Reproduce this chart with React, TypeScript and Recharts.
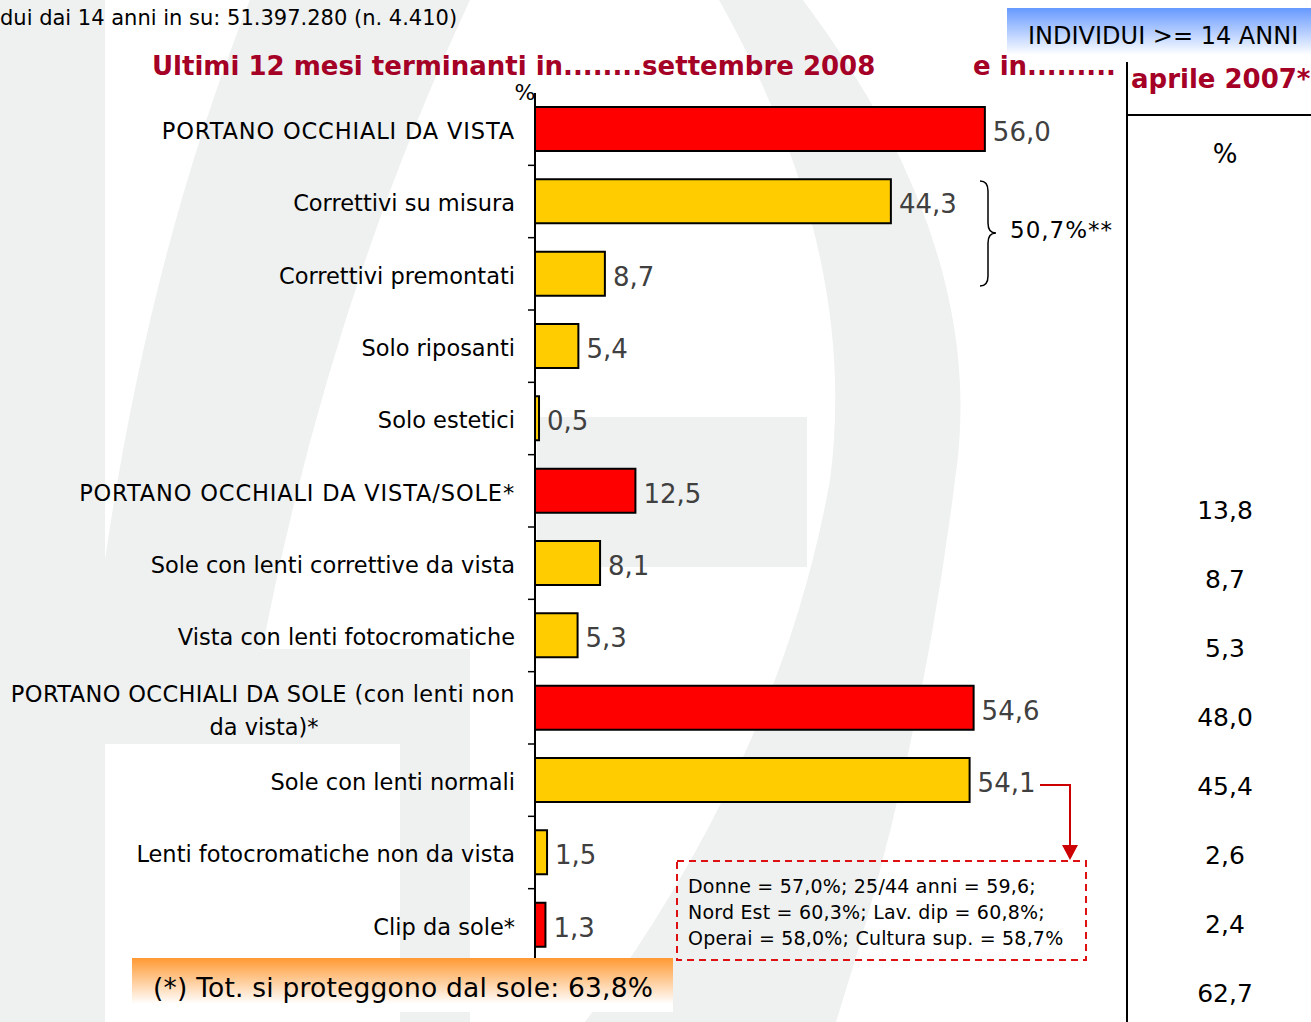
import { BarChart, Bar, XAxis, YAxis, Cell, LabelList } from 'recharts'

const categories = [
  'PORTANO OCCHIALI DA VISTA',
  'Correttivi su misura',
  'Correttivi premontati',
  'Solo riposanti',
  'Solo estetici',
  'PORTANO OCCHIALI DA VISTA/SOLE*',
  'Sole con lenti correttive da vista',
  'Vista con lenti fotocromatiche',
  'PORTANO OCCHIALI DA SOLE (con lenti non|da vista)*',
  'Sole con lenti normali',
  'Lenti fotocromatiche non da vista',
  'Clip da sole*',
]
const values2008 = [56.0, 44.3, 8.7, 5.4, 0.5, 12.5, 8.1, 5.3, 54.6, 54.1, 1.5, 1.3]
const isRed = [true, false, false, false, false, true, false, false, true, false, false, true]
const values2007 = ['13,8', '8,7', '5,3', '48,0', '45,4', '2,6', '2,4', '62,7']
const noteLines = [
  'Donne = 57,0%; 25/44 anni = 59,6;',
  'Nord Est = 60,3%; Lav. dip = 60,8%;',
  'Operai = 58,0%; Cultura sup. = 58,7%',
]

const W = 1311
const H = 1022
const TOP = 93
const BOTTOM = 61
const BAND = (H - TOP - BOTTOM) / categories.length
const FONT = '"DejaVu Sans", Verdana, sans-serif'
const DARK_RED = '#a50026'

const data = categories.map((name, i) => ({ name, value: values2008[i], red: isRed[i] }))

const fmt = (v: any) => Number(v).toFixed(1).replace('.', ',')

// upper-case labels are a bit wider in the original font
const spacingFor = (s: string) => (s === s.toUpperCase() ? 0.85 : /[A-Z]{4}/.test(s) ? 0.38 : 0)

function CategoryTick(props: any) {
  const { x, y, payload } = props
  const lines = String(payload.value).split('|')
  const axisX = x + 20
  return (
    <g>
      <line x1={axisX - 7} x2={axisX} y1={y + BAND / 2} y2={y + BAND / 2} stroke="#000" strokeWidth={1.5} />
      {lines.length === 1 ? (
        <text x={x} y={y + 2} dy="0.35em" textAnchor="end" fontSize={22.5} fill="#000" fontFamily={FONT} letterSpacing={spacingFor(lines[0])}>
          {lines[0]}
        </text>
      ) : (
        <>
          <text x={x} y={y - 14} dy="0.35em" textAnchor="end" fontSize={22.5} fill="#000" fontFamily={FONT} letterSpacing={spacingFor(lines[0])}>
            {lines[0]}
          </text>
          <text x={x - 251} y={y + 19} dy="0.35em" textAnchor="middle" fontSize={22.5} fill="#000" fontFamily={FONT}>
            {lines[1]}
          </text>
        </>
      )}
    </g>
  )
}

function ValueLabel(props: any) {
  const { x, y, width, height, value } = props
  return (
    <text x={x + width + 8} y={y + height / 2 + 3} dy="0.35em" fill="#404040" fontSize={26} fontFamily={FONT}>
      {fmt(value)}
    </text>
  )
}

function Watermark() {
  const g = '#eff0f0'
  return (
    <svg width={W} height={H} style={{ position: 'absolute', left: 0, top: 0 }}>
      <rect x={0} y={0} width={105} height={H} fill={g} />
      <path d="M250,0 L470,0 Q330,300 262,650 L105,650 L105,560 Q150,250 250,0 Z" fill={g} />
      <rect x={105} y={649} width={365} height={95} fill={g} />
      <rect x={400} y={649} width={70} height={373} fill={g} />
      <path d="M719,0 L803,0 Q990,250 955,480 Q920,760 836,1022 L585,1022 Q780,760 830,480 Q860,250 719,0 Z" fill={g} />
      <rect x={537} y={417} width={270} height={150} fill={g} />
    </svg>
  )
}

export default function App() {
  return (
    <div style={{ position: 'absolute', left: 0, top: 0, width: W, height: H, background: '#fff', overflow: 'hidden', fontFamily: FONT }}>
      <Watermark />
      <div style={{ position: 'absolute', left: 0, top: 0 }}>
        <BarChart width={W} height={H} data={data} layout="vertical" margin={{ top: TOP, right: 294, bottom: BOTTOM, left: 0 }}>
          <XAxis type="number" domain={[0, 60]} hide />
          <YAxis
            type="category"
            dataKey="name"
            width={535}
            interval={0}
            tickSize={0}
            tickMargin={20}
            tickLine={false}
            axisLine={{ stroke: '#000', strokeWidth: 2 }}
            tick={<CategoryTick />}
          />
          <Bar dataKey="value" barSize={44} stroke="#000" strokeWidth={2} isAnimationActive={false}>
            {data.map((d, i) => (
              <Cell key={i} fill={d.red ? '#ff0000' : '#ffcc00'} />
            ))}
            <LabelList dataKey="value" content={<ValueLabel />} />
          </Bar>
        </BarChart>
      </div>
      <svg width={W} height={H} style={{ position: 'absolute', left: 0, top: 0, pointerEvents: 'none' }} fontFamily={FONT}>
        <defs>
          <linearGradient id="blueGrad" x1="0" y1="0" x2="0" y2="1">
            <stop offset="0" stopColor="#6699ff" />
            <stop offset="1" stopColor="#ffffff" />
          </linearGradient>
          <linearGradient id="orangeGrad" x1="0" y1="0" x2="0" y2="1">
            <stop offset="0" stopColor="#ff9933" />
            <stop offset="0.85" stopColor="#ffffff" />
          </linearGradient>
        </defs>
        <text x={0} y={25} fontSize={21} fill="#000">dui dai 14 anni in su: 51.397.280 (n. 4.410)</text>

        <rect x={1007} y={8} width={304} height={47} fill="url(#blueGrad)" />
        <text x={1028} y={44} fontSize={24} fill="#000">INDIVIDUI &gt;= 14 ANNI</text>

        <text x={152} y={75} fontSize={26} fontWeight="bold" fill={DARK_RED}>Ultimi 12 mesi terminanti in........settembre 2008</text>
        <text x={973} y={75} fontSize={26} fontWeight="bold" fill={DARK_RED}>e in.........</text>
        <text x={1131} y={88} fontSize={26} fontWeight="bold" fill={DARK_RED}>aprile 2007*</text>

        <text x={525} y={100} fontSize={22} fill="#000" textAnchor="middle">%</text>

        <line x1={1127} x2={1127} y1={62} y2={H} stroke="#000" strokeWidth={2} />
        <line x1={1127} x2={W} y1={115} y2={115} stroke="#000" strokeWidth={2} />
        <text x={1225} y={163} fontSize={26} fill="#000" textAnchor="middle">%</text>
        {values2007.map((v, i) => (
          <text key={i} x={1225} y={510 + i * 69 + 9} fontSize={25} fill="#000" textAnchor="middle">{v}</text>
        ))}

        <path d="M980,181 Q988,181 988,191 L988,223 Q988,233 996,233 Q988,233 988,243 L988,276 Q988,286 980,286" fill="none" stroke="#000" strokeWidth={1.5} />
        <text x={1010} y={238} fontSize={23} fill="#000" letterSpacing={1}>50,7%**</text>

        <polyline points="1040,785 1070,785 1070,848" fill="none" stroke="#cc0000" strokeWidth={2} />
        <polygon points="1062,845 1078,845 1070,860" fill="#cc0000" />

        <rect x={677} y={861} width={409} height={99} fill="none" stroke="#dd1111" strokeWidth={2} strokeDasharray="7 5" />
        {noteLines.map((t, i) => (
          <text key={i} x={688} y={893 + i * 26} fontSize={19} fill="#000" letterSpacing={0.2}>{t}</text>
        ))}

        <rect x={132} y={958} width={541} height={54} fill="url(#orangeGrad)" />
        <text x={153} y={997} fontSize={26.5} fill="#000" letterSpacing={0.2}>(*) Tot. si proteggono dal sole: 63,8%</text>
      </svg>
    </div>
  )
}
